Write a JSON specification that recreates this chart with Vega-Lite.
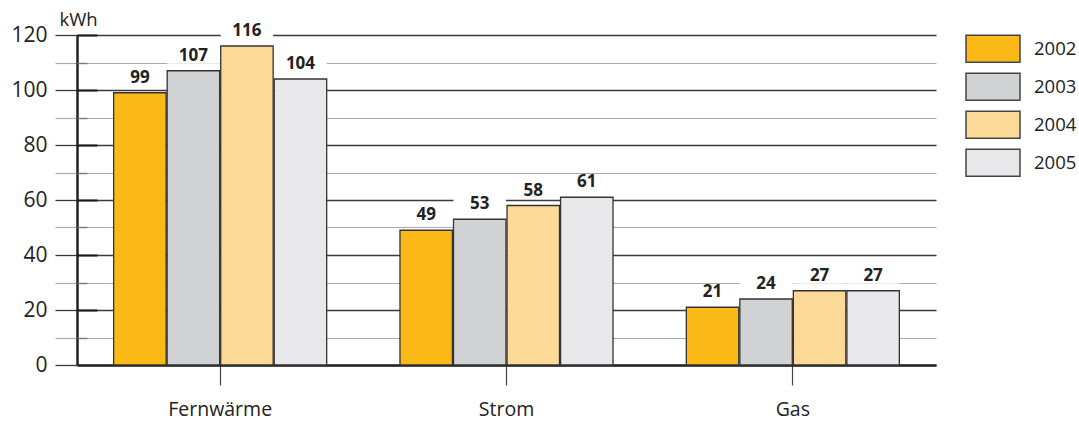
{
  "$schema": "https://vega.github.io/schema/vega-lite/v6.json",
  "width": 859,
  "height": 330,
  "autosize": {"type": "none"},
  "padding": {"left": 77, "top": 35, "right": 143, "bottom": 56},
  "background": "white",
  "config": {
    "font": "Open Sans",
    "view": {"stroke": null}
  },
  "data": {
    "values": [
      {"Energie": "Fernwärme", "Jahr": "2002", "kWh": 99},
      {"Energie": "Fernwärme", "Jahr": "2003", "kWh": 107},
      {"Energie": "Fernwärme", "Jahr": "2004", "kWh": 116},
      {"Energie": "Fernwärme", "Jahr": "2005", "kWh": 104},
      {"Energie": "Strom", "Jahr": "2002", "kWh": 49},
      {"Energie": "Strom", "Jahr": "2003", "kWh": 53},
      {"Energie": "Strom", "Jahr": "2004", "kWh": 58},
      {"Energie": "Strom", "Jahr": "2005", "kWh": 61},
      {"Energie": "Gas", "Jahr": "2002", "kWh": 21},
      {"Energie": "Gas", "Jahr": "2003", "kWh": 24},
      {"Energie": "Gas", "Jahr": "2004", "kWh": 27},
      {"Energie": "Gas", "Jahr": "2005", "kWh": 27}
    ]
  },
  "encoding": {
    "x": {
      "field": "Energie",
      "type": "nominal",
      "sort": ["Fernwärme", "Strom", "Gas"],
      "scale": {"paddingInner": 0.256, "paddingOuter": 0.128},
      "axis": {
        "title": null,
        "labelAngle": 0,
        "labelFontSize": 19.5,
        "labelColor": "#222222",
        "labelPadding": 15,
        "domainColor": "#222222",
        "domainWidth": 2.5,
        "tickColor": "#444444",
        "tickWidth": 1.2,
        "tickSize": 20,
        "grid": false
      }
    },
    "xOffset": {
      "field": "Jahr",
      "type": "nominal",
      "scale": {"paddingInner": 0.02, "paddingOuter": 0}
    }
  },
  "layer": [
    {
      "mark": {"type": "bar", "fill": "white", "yOffset": -7, "y2Offset": -22},
      "encoding": {
        "y": {
          "field": "kWh",
          "type": "quantitative",
          "scale": {"domain": [0, 120], "nice": false},
          "axis": {
            "title": "kWh",
            "titleAngle": 0,
            "titleX": -18,
            "titleY": -10,
            "titleAlign": "left",
            "titleBaseline": "alphabetic",
            "titleFontSize": 18.5,
            "titleFontWeight": "normal",
            "titleColor": "#222222",
            "values": [0, 10, 20, 30, 40, 50, 60, 70, 80, 90, 100, 110, 120],
            "labelExpr": "datum.value % 20 === 0 ? datum.label : ''",
            "labelFontSize": 21,
            "labelColor": "#222222",
            "labelPadding": 8,
            "domainColor": "#222222",
            "domainWidth": 2.5,
            "tickSize": 22,
            "tickColor": {"condition": {"test": "datum.value % 20 === 0", "value": "#3a3a3a"}, "value": "#aaaaaa"},
            "tickWidth": {"condition": {"test": "datum.value % 20 === 0", "value": 1.3}, "value": 1.2},
            "grid": true,
            "gridColor": {"condition": {"test": "datum.value % 20 === 0", "value": "#3a3a3a"}, "value": "#aaaaaa"},
            "gridWidth": {"condition": {"test": "datum.value % 20 === 0", "value": 1.3}, "value": 1.2},
            "gridOpacity": 1
          }
        },
        "y2": {"field": "kWh"}
      }
    },
    {
      "mark": {"type": "bar", "stroke": "#333333", "strokeWidth": 1.3},
      "encoding": {
        "y": {"field": "kWh", "type": "quantitative", "axis": null},
        "color": {
          "field": "Jahr",
          "type": "nominal",
          "scale": {
            "domain": ["2002", "2003", "2004", "2005"],
            "range": ["#FBB917", "#D1D2D4", "#FDD998", "#E8E8EA"]
          },
          "legend": {
            "title": null,
            "orient": "none",
            "legendX": 888,
            "legendY": -5,
            "symbolType": "M-1,-0.5H1V0.5H-1Z",
            "symbolSize": 2916,
            "symbolStrokeColor": "#444444",
            "symbolStrokeWidth": 1.5,
            "symbolOpacity": 1,
            "clipHeight": 37.5,
            "rowPadding": 0,
            "labelFontSize": 18.5,
            "labelColor": "#222222",
            "labelOffset": 13
          }
        }
      }
    },
    {
      "mark": {
        "type": "text",
        "dy": -10,
        "baseline": "alphabetic",
        "fontWeight": "bold",
        "fontSize": 17,
        "color": "#222222"
      },
      "encoding": {
        "y": {
          "field": "kWh",
          "type": "quantitative",
          "axis": {
            "orient": "left",
            "title": null,
            "labels": false,
            "domain": false,
            "grid": false,
            "values": [10, 20, 30, 40, 50, 60, 70, 80, 90, 100, 110, 120],
            "tickSize": {"condition": {"test": "datum.value % 20 === 0", "value": -20}, "value": -10},
            "tickColor": {"condition": {"test": "datum.value % 20 === 0", "value": "#1a1a1a"}, "value": "#777777"},
            "tickWidth": {"condition": {"test": "datum.value % 20 === 0", "value": 2}, "value": 1.4}
          }
        },
        "text": {"field": "kWh", "type": "quantitative"}
      }
    }
  ],
  "resolve": {"axis": {"y": "independent"}}
}
